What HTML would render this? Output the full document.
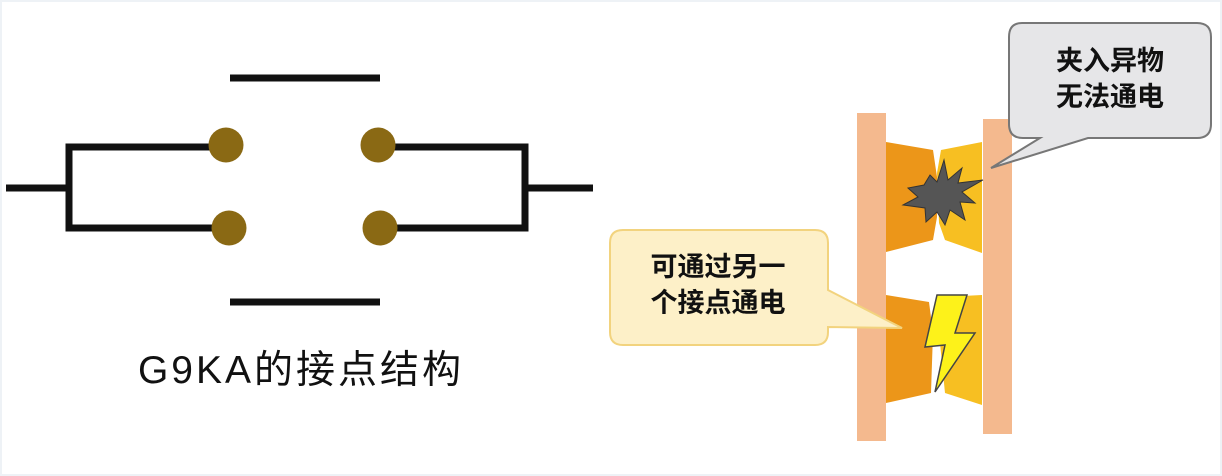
<!DOCTYPE html>
<html><head><meta charset="utf-8"><style>
html,body{margin:0;padding:0;background:#fff;overflow:hidden;}
svg{display:block}
</style></head><body>
<svg width="1222" height="476" viewBox="0 0 1222 476" xmlns="http://www.w3.org/2000/svg">
<rect x="0" y="0" width="1222" height="476" fill="#fff"/>
<rect x="1" y="1" width="1220" height="474" fill="none" stroke="#eef2f6" stroke-width="2"/>
<g stroke="#111" stroke-width="7" fill="none" stroke-linecap="butt">
<line x1="230" y1="78" x2="380" y2="78"/>
<line x1="230" y1="302" x2="380" y2="302"/>
<line x1="6" y1="188" x2="69" y2="188"/>
<polyline points="215,147 69,147 69,228 215,228"/>
<polyline points="380,147 525,147 525,228 380,228"/>
<line x1="525" y1="188" x2="593" y2="188"/>
</g>
<g fill="#8a6914">
<circle cx="226" cy="145" r="17.5"/>
<circle cx="229" cy="228" r="17.5"/>
<circle cx="378" cy="145" r="17.5"/>
<circle cx="380" cy="228" r="17.5"/>
</g>
<text x="301" y="383" text-anchor="middle" font-family="'Liberation Sans','Noto Sans CJK SC',sans-serif" font-size="39" fill="#111" letter-spacing="3">G9KA的接点结构</text>

<!-- contacts -->
<rect x="857" y="113" width="29" height="328" fill="#f4b98e"/>
<rect x="983" y="119" width="29" height="315" fill="#f4b98e"/>
<polygon points="886,142 933,150 937,177 937,217 933,240 886,252" fill="#ec9619"/>
<polygon points="982,142 941,150 937,173 939,223 945,240 982,253" fill="#f7bf22"/>
<polygon points="886,295 929,302 933,333 931,393 886,403" fill="#ec9619"/>
<polygon points="982,295 943,297 939,333 945,393 982,405" fill="#f7bf22"/>
<polygon points="930,175 937,182 944,160 948,180 962,168 958,183 983,180 962,192 975,203 960,202 965,220 950,210 945,225 937,212 926,222 925,208 903,205 918,197 908,188 924,185" fill="#555" stroke="#333" stroke-width="1"/>
<polygon points="937,295 967,295 955,333 975,333 935,392 945,345 925,347" fill="#fdf21a" stroke="#444" stroke-width="1.5"/>

<!-- callouts -->
<path d="M1022,23 H1197 Q1211,23 1211,37 V124 Q1211,138 1197,138 H1088 L991,168 L1040,138 H1023 Q1009,138 1009,124 V37 Q1009,23 1022,23 Z" fill="#e6e6e8" stroke="#777" stroke-width="2"/>
<text x="1110" y="70" text-anchor="middle" font-family="'Liberation Sans','Noto Sans CJK SC',sans-serif" font-weight="bold" font-size="27" fill="#111">夹入异物</text>
<text x="1110" y="106" text-anchor="middle" font-family="'Liberation Sans','Noto Sans CJK SC',sans-serif" font-weight="bold" font-size="27" fill="#111">无法通电</text>
<path d="M623,230 H815 Q828,230 828,243 V290 L902,328 L828,327 V332 Q828,345 815,345 H623 Q610,345 610,332 V243 Q610,230 623,230 Z" fill="#fdf0c8" stroke="#f2d37e" stroke-width="2"/>
<text x="718" y="276" text-anchor="middle" font-family="'Liberation Sans','Noto Sans CJK SC',sans-serif" font-weight="bold" font-size="27" fill="#111">可通过另一</text>
<text x="718" y="312" text-anchor="middle" font-family="'Liberation Sans','Noto Sans CJK SC',sans-serif" font-weight="bold" font-size="27" fill="#111">个接点通电</text>
</svg>
</body></html>
